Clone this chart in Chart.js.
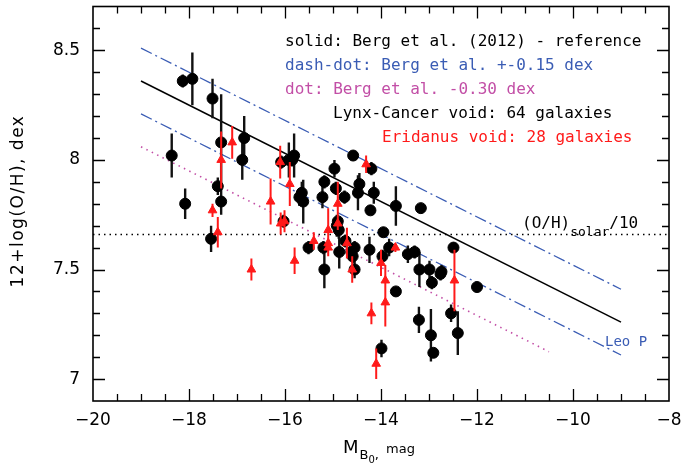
<!DOCTYPE html>
<html><head><meta charset="utf-8">
<script src="https://cdn.jsdelivr.net/npm/chart.js@4"></script>
<style>html,body{margin:0;padding:0;background:#fff}#wrap{width:683px;height:466px}</style>
</head><body><div id="wrap"><canvas id="c" width="683" height="466"></canvas></div>
<script>
// Lynx-Cancer void galaxies (black circles)
const lynxMag = [-18.36,-18.13,-17.93,-17.51,-17.33,-17.40,-17.33,-16.85,-16.89,-18.08,
  -17.54,-16.08,-15.92,-15.81,-15.65,-15.70,-15.62,-16.03,-15.51,-14.58,
  -14.20,-14.97,-15.18,-14.94,-14.45,-14.48,-15.22,-14.76,-14.15,-14.22,
  -13.69,-13.17,-14.92,-14.88,-13.95,-12.49,-15.20,-15.18,-14.87,-14.74,
  -14.55,-14.59,-14.55,-14.24,-13.97,-13.83,-13.69,-13.44,-13.30,-13.20,
  -12.99,-12.94,-12.74,-13.21,-12.96,-12.91,-12.54,-12.40,-12.00,-13.99,
  -15.85,-14.62,-12.76,-14.90];
const lynxOH = [8.02,8.36,8.37,8.28,8.08,7.88,7.81,8.10,8.00,7.80,
  7.64,7.99,8.00,8.02,7.85,7.83,7.81,7.72,7.60,8.02,
  7.96,7.96,7.90,7.87,7.89,7.85,7.83,7.83,7.85,7.77,
  7.79,7.78,7.70,7.68,7.67,7.60,7.60,7.50,7.58,7.63,
  7.60,7.56,7.50,7.59,7.56,7.60,7.40,7.57,7.58,7.50,
  7.50,7.44,7.49,7.27,7.20,7.12,7.30,7.21,7.42,7.14,
  8.00,7.58,7.48,7.72];
const lynxErr = [0.10,0.03,0.12,0.09,0.22,0.04,0.06,0.10,0.09,0.07,
  0.06,0.03,0.08,0.10,0.05,0.04,0.10,0.03,0.03,0.02,
  0.03,0.04,0.03,0.03,0.05,0.08,0.05,0.03,0.05,0.02,
  0.09,0.02,0.05,0.04,0.02,0.02,0.03,0.085,0.075,0.03,
  0.03,0.03,0.04,0.06,0.03,0.04,0.02,0.04,0.03,0.08,
  0.04,0.03,0.03,0.06,0.12,0.02,0.04,0.10,0.02,0.04,
  0.03,0.03,0.03,0.03];

// Eridanus void galaxies (red triangles)
const eriMag = [-17.51,-17.40,-17.33,-17.10,-16.70,-16.30,-16.09,-16.01,-16.10,-15.90,
  -15.80,-15.40,-14.31,-14.90,-15.10,-15.10,-15.10,-14.71,-14.60,-14.00,
  -13.70,-13.91,-13.91,-14.20,-14.10,-12.47,-14.90];
const eriOH = [7.77,7.67,8.00,8.08,7.50,7.81,7.71,7.72,7.99,7.89,
  7.54,7.63,7.98,7.80,7.68,7.62,7.60,7.62,7.50,7.53,
  7.60,7.45,7.35,7.30,7.07,7.45,7.71];
const eriErr = [0.03,0.07,0.13,0.075,0.05,0.105,0.05,0.05,0.075,0.10,
  0.06,0.04,0.04,0.10,0.10,0.04,0.04,0.07,0.06,0.06,
  0.02,0.07,0.11,0.05,0.07,0.14,0.03];

// Berg et al. (2012) relation and offsets
const bergMag = [-19, -9];
const bergOH = [8.36, 7.26];
const bergUpOH = [8.51, 7.41];
const bergLoOH = [8.21, 7.11];
const bergDotMag = [-19, -10.5];
const bergDotOH = [8.06, 7.125];
const solarMag = [-20, -8];
const solarOH = [7.66, 7.66];

const xTickLabels = [-20, -18, -16, -14, -12, -10, -8];
const yTickLabels = [7, 7.5, 8, 8.5];
const xRange = [-20, -8];
const yRange = [6.9, 8.7];
const xMinorStep = 0.5;
const yMinorStep = 0.1;

const legendTexts = [
  "solid: Berg et al. (2012) - reference",
  "dash-dot: Berg et al. +-0.15 dex",
  "dot: Berg et al. -0.30 dex",
  "Lynx-Cancer void: 64 galaxies",
  "Eridanus void: 28 galaxies"
];
const legendColors = ['#000000', '#3a5cb4', '#c24ea6', '#000000', '#ff1a1a'];

const BLUE = '#3a5cb4', PINK = '#c24ea6', RED = '#ff1a1a';

function pts(xs, ys) { return xs.map((x, i) => ({x: x, y: ys[i]})); }
function errData(xs, ys, es) {
  const d = [];
  xs.forEach((x, i) => { d.push({x: x, y: ys[i] - es[i]}, {x: x, y: ys[i] + es[i]}, {x: x, y: null}); });
  return d;
}

const decor = {
  id: 'decor',
  afterDraw(chart) {
    const ctx = chart.ctx, a = chart.chartArea, xs = chart.scales.x, ys = chart.scales.y;
    ctx.save();
    ctx.setLineDash([]);
    ctx.globalAlpha = 1;
    ctx.lineCap = 'butt';
    ctx.strokeStyle = '#000000';
    ctx.lineWidth = 1.3;
    const nx = Math.round((xRange[1] - xRange[0]) / xMinorStep);
    ctx.beginPath();
    for (let i = 1; i < nx; i++) {
      const v = xRange[0] + i * xMinorStep;
      const major = xTickLabels.some(t => Math.abs(t - v) < 1e-6);
      const L = major ? 12 : 7;
      const p = Math.round(xs.getPixelForValue(v)) + 0.5;
      ctx.moveTo(p, a.bottom); ctx.lineTo(p, a.bottom - L);
      ctx.moveTo(p, a.top); ctx.lineTo(p, a.top + L);
    }
    const ny = Math.round((yRange[1] - yRange[0]) / yMinorStep);
    for (let i = 1; i < ny; i++) {
      const v = yRange[0] + i * yMinorStep;
      const major = yTickLabels.some(t => Math.abs(t - v) < 1e-6);
      const L = major ? 12 : 7;
      const p = Math.round(ys.getPixelForValue(v)) + 0.5;
      ctx.moveTo(a.left, p); ctx.lineTo(a.left + L, p);
      ctx.moveTo(a.right, p); ctx.lineTo(a.right - L, p);
    }
    ctx.stroke();
    ctx.lineWidth = 1.6;
    ctx.strokeRect(a.left, a.top, a.right - a.left, a.bottom - a.top);

    // legend texts
    ctx.font = '16px "DejaVu Sans Mono"';
    ctx.textBaseline = 'alphabetic';
    ctx.textAlign = 'left';
    const lx = [285, 285, 285, 333, 382];
    const ly = [46, 70, 94, 118, 142];
    legendTexts.forEach((t, i) => { ctx.fillStyle = legendColors[i]; ctx.fillText(t, lx[i], ly[i]); });

    // (O/H)solar/10
    ctx.fillStyle = '#000';
    let x0 = 522;
    ctx.font = '16px "DejaVu Sans Mono"';
    ctx.fillText('(O/H)', x0, 228); x0 += ctx.measureText('(O/H)').width;
    ctx.font = '13px "DejaVu Sans Mono"';
    ctx.fillText('solar', x0, 236); x0 += ctx.measureText('solar').width;
    ctx.font = '16px "DejaVu Sans Mono"';
    ctx.fillText('/10', x0, 228);

    // Leo P
    ctx.fillStyle = BLUE;
    ctx.font = '14px "DejaVu Sans Mono"';
    ctx.fillText('Leo P', 605, 346);

    // Y axis title
    ctx.fillStyle = '#000';
    ctx.save();
    ctx.translate(19, 201);
    ctx.rotate(-Math.PI / 2);
    ctx.font = '17px "DejaVu Sans"';
    try { ctx.letterSpacing = '1.5px'; } catch (e) {}
    ctx.textAlign = 'center'; ctx.textBaseline = 'middle';
    ctx.fillText('12+log(O/H), dex', 0, 0);
    ctx.restore();

    // X axis title: M_{B0}, mag
    ctx.textAlign = 'left'; ctx.textBaseline = 'alphabetic';
    let tx = 343;
    ctx.font = '18px "DejaVu Sans"';
    ctx.fillText('M', tx, 453); tx += ctx.measureText('M').width + 1;
    ctx.font = '13px "DejaVu Sans"';
    ctx.fillText('B', tx, 459); tx += ctx.measureText('B').width;
    ctx.font = '10px "DejaVu Sans"';
    ctx.fillText('0', tx, 463); tx += ctx.measureText('0').width;
    ctx.font = '13px "DejaVu Sans"';
    ctx.fillText(',', tx, 459); tx += ctx.measureText(', ').width + 3;
    ctx.fillText('mag', tx, 453);
    ctx.restore();
  }
};

const lineDs = (xs, ys, color, dash, w, ord) => ({
  type: 'line', data: pts(xs, ys), borderColor: color, borderWidth: w, borderDash: dash,
  pointRadius: 0, fill: false, tension: 0, order: ord
});

new Chart(document.getElementById('c'), {
  type: 'scatter',
  data: {
    datasets: [
      { data: pts(eriMag, eriOH), pointStyle: 'triangle', pointRadius: 5, backgroundColor: RED, borderColor: RED, borderWidth: 1, order: 0 },
      { data: errData(eriMag, eriOH, eriErr), showLine: true, spanGaps: false, pointRadius: 0, borderColor: RED, borderWidth: 2, order: 1 },
      { data: pts(lynxMag, lynxOH), pointStyle: 'circle', pointRadius: 5.5, backgroundColor: '#000', borderColor: '#000', borderWidth: 1, order: 2 },
      { data: errData(lynxMag, lynxOH, lynxErr), showLine: true, spanGaps: false, pointRadius: 0, borderColor: '#111', borderWidth: 2.4, order: 3 },
      lineDs(bergMag, bergOH, '#000', [], 1.5, 4),
      lineDs(bergMag, bergUpOH, BLUE, [12, 4, 2, 4], 1.3, 5),
      lineDs(bergMag, bergLoOH, BLUE, [12, 4, 2, 4], 1.3, 6),
      lineDs(bergDotMag, bergDotOH, PINK, [1.5, 4.5], 1.6, 7),
      lineDs(solarMag, solarOH, '#000', [1.5, 4], 1.6, 8)
    ]
  },
  options: {
    responsive: false, animation: false, devicePixelRatio: 1,
    layout: { padding: { top: 6, right: 14, left: 0, bottom: 0 } },
    plugins: { legend: { display: false }, tooltip: { enabled: false } },
    scales: {
      x: {
        type: 'linear', min: xRange[0], max: xRange[1],
        grid: { display: false, drawTicks: false }, border: { display: false },
        ticks: { color: '#000', padding: 9, maxRotation: 0, font: { family: 'DejaVu Sans', size: 17 },
          callback: v => (v < 0 ? '\u2212' : '') + Math.abs(v) },
        afterBuildTicks: s => { s.ticks = xTickLabels.map(v => ({ value: v })); },
        afterFit: s => { s.height = 65; s.paddingLeft = 0; s.paddingRight = 0; }
      },
      y: {
        type: 'linear', min: yRange[0], max: yRange[1],
        grid: { display: false, drawTicks: false }, border: { display: false },
        ticks: { color: '#000', padding: 13, font: { family: 'DejaVu Sans', size: 17 },
          callback: v => String(v) },
        afterBuildTicks: s => { s.ticks = yTickLabels.map(v => ({ value: v })); },
        afterFit: s => { s.width = 93; s.paddingTop = 0; s.paddingBottom = 0; }
      }
    }
  },
  plugins: [decor]
});
</script>
</body></html>
